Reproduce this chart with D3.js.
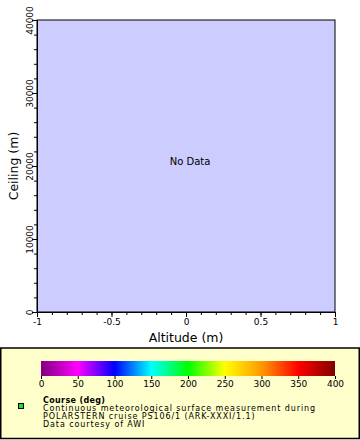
<!DOCTYPE html>
<html>
<head>
<meta charset="utf-8">
<script src="https://cdn.jsdelivr.net/npm/d3@7"></script>
<style>
  body{margin:0;background:#fff;}
  svg{display:block;font-family:"DejaVu Sans",sans-serif;}
</style>
</head>
<body>
<svg id="chart" width="360" height="440"></svg>
<script>
// axes
var xDomain = [-1, 1];
var yDomain = [0, 40000];
var xTickValues = [-1, -0.5, 0, 0.5, 1];
var xTickLabels = ["-1", "-0.5", "0", "0.5", "1"];
var yTickValues = [0, 10000, 20000, 30000, 40000];
var xTitle = "Altitude (m)";
var yTitle = "Ceiling (m)";
var emptyMessage = "No Data";

// colour bar
var barTicks = [0, 50, 100, 150, 200, 250, 300, 350, 400];
var barStopValues = [0, 50, 100, 150, 200, 250, 300, 350, 400];
var barStopColors = ["#800080", "#ff00ff", "#0000ff", "#00ffff", "#00ff00", "#ffff00", "#ff9900", "#ff0000", "#800000"];

// legend
var legendTitle = "Course (deg)";
var legendLines = [
    "Continuous meteorological surface measurement during",
    "POLARSTERN cruise PS106/1 (ARK-XXXI/1.1)",
    "Data courtesy of AWI"
];
var legendColor = "#22dd22";

var svg = d3.select("#chart");
var plot = {left: 37, top: 20, right: 335, bottom: 312};

var x = d3.scaleLinear().domain(xDomain).range([plot.left, plot.right]);
var y = d3.scaleLinear().domain(yDomain).range([plot.bottom, plot.top]);

svg.append("rect")
    .attr("x", plot.left).attr("y", plot.top)
    .attr("width", plot.right - plot.left).attr("height", plot.bottom - plot.top)
    .attr("fill", "#ccccff")
    .attr("stroke", "#000").attr("stroke-width", 1);

// minor ticks
var xMinor = d3.range(xDomain[0], xDomain[1] + 0.0001, 0.1);
var yMinor = d3.range(yDomain[0], yDomain[1] + 1, 2000);

var xAxis = svg.append("g").attr("transform", "translate(0," + plot.bottom + ")");
xAxis.call(d3.axisBottom(x).tickValues(xMinor).tickSize(3).tickFormat(""));
xAxis.append("g").call(d3.axisBottom(x).tickValues(xTickValues).tickSize(5)
    .tickFormat(function(d, i){return xTickLabels[i];}));
xAxis.selectAll(".domain").attr("stroke", "#000");
xAxis.selectAll("text").attr("font-size", 9).attr("font-family", "DejaVu Sans").attr("fill", "#000").attr("dy", "0.55em");

var yAxis = svg.append("g").attr("transform", "translate(" + plot.left + ",0)");
yAxis.call(d3.axisLeft(y).tickValues(yMinor).tickSize(3).tickFormat(""));
yAxis.append("g").call(d3.axisLeft(y).tickValues(yTickValues).tickSize(5).tickFormat(d3.format("d")));
yAxis.selectAll("text")
    .attr("font-size", 9).attr("font-family", "DejaVu Sans").attr("fill", "#000")
    .attr("x", null).attr("dy", null)
    .attr("text-anchor", "middle")
    .attr("transform", "translate(-4,0) rotate(-90)");

svg.append("text")
    .attr("x", (plot.left + plot.right) / 2).attr("y", 342)
    .attr("text-anchor", "middle").attr("font-size", 12.5)
    .text(xTitle);

svg.append("text")
    .attr("transform", "translate(18," + (plot.top + plot.bottom) / 2 + ") rotate(-90)")
    .attr("text-anchor", "middle").attr("font-size", 12.5)
    .text(yTitle);

svg.append("text")
    .attr("x", 190).attr("y", 165)
    .attr("text-anchor", "middle").attr("font-size", 10)
    .text(emptyMessage);

// legend box
var legend = svg.append("g");
legend.append("rect")
    .attr("x", 0.75).attr("y", 348)
    .attr("width", 358.5).attr("height", 90.5)
    .attr("fill", "#ffffcc").attr("stroke", "#000").attr("stroke-width", 1.5);

var c = d3.scaleLinear().domain([0, 400]).range([41, 335]);
var grad = svg.append("defs").append("linearGradient").attr("id", "bar");
barStopValues.forEach(function(v, i){
    grad.append("stop")
        .attr("offset", (v - 0) / 400)
        .attr("stop-color", barStopColors[i]);
});
legend.append("rect")
    .attr("x", c(0)).attr("y", 361)
    .attr("width", c(400) - c(0)).attr("height", 15)
    .attr("fill", "url(#bar)");

var cAxis = legend.append("g").attr("transform", "translate(0,376)")
    .call(d3.axisBottom(c).tickValues(barTicks).tickSize(3).tickFormat(d3.format("d")));
cAxis.select(".domain").remove();
cAxis.selectAll("text").attr("font-size", 9).attr("font-family", "DejaVu Sans").attr("fill", "#000").attr("dy", "0.6em");

legend.append("rect")
    .attr("x", 18.5).attr("y", 403.5).attr("width", 5).attr("height", 5)
    .attr("fill", legendColor).attr("stroke", "#000").attr("stroke-width", 1);

legend.append("text")
    .attr("x", 43).attr("y", 402.5)
    .attr("font-size", 8).attr("font-weight", "bold")
    .attr("letter-spacing", 0.35)
    .text(legendTitle);

legend.selectAll("text.line")
    .data(legendLines)
    .enter()
    .append("text")
    .attr("class", "line")
    .attr("x", 43)
    .attr("y", function(d, i){return 410.8 + i * 8.2;})
    .attr("font-size", 8)
    .attr("letter-spacing", 0.9)
    .text(function(d){return d;});
</script>
</body>
</html>
